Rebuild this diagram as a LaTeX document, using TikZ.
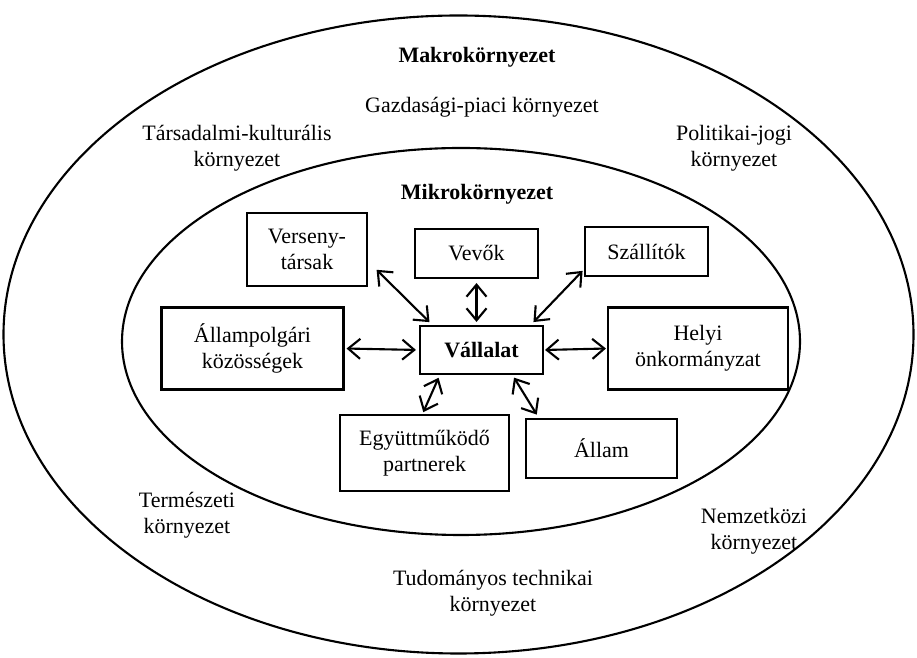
\documentclass[tikz,border=0pt]{standalone}
\usepackage{fontspec}
\setmainfont{Liberation Serif}
\usetikzlibrary{arrows.meta}
\tikzset{
	doboz/.style={draw, line width=1.2pt, align=center, inner sep=2pt},
	felirat/.style={align=center},
	nyil/.style={{Straight Barb[length=2.4mm,width=4mm]}-{Straight Barb[length=2.4mm,width=4mm]}, line width=1.2pt}
}

\begin{document}
\begin{tikzpicture}[font=\fontsize{12.5}{15}\selectfont]
			%%%%% START %%%%%
			\useasboundingbox (0, 0) rectangle (18.34, 13.14);
			
			\draw[line width=1.2pt] (9.17, 6.45) ellipse (9.1 and 6.38);
			\draw[line width=1.2pt] (9.22, 6.31) ellipse (6.78 and 3.87);
			
			\node[felirat] (makro) at (9.54, 12.0) {\textbf{Makrokörnyezet}};
			\node[felirat] (gazdasagi) at (9.64, 11.0) {Gazdasági-piaci környezet};
			\node[felirat] (tarsadalmi) at (4.74, 10.18) {Társadalmi-kulturális\\környezet};
			\node[felirat] (politikai) at (14.68, 10.18) {Politikai-jogi\\környezet};
			\node[felirat] (mikro) at (9.54, 9.26) {\textbf{Mikrokörnyezet}};
			\node[felirat] (termeszeti) at (3.74, 2.84) {Természeti\\környezet};
			\node[felirat] (nemzetkozi) at (15.08, 2.52) {Nemzetközi\\környezet};
			\node[felirat] (tudomanyos) at (9.86, 1.28) {Tudományos technikai\\környezet};
			
			\node[doboz, minimum width=2.46cm, minimum height=0.96cm] (vallalat) at (9.63, 6.14) {\textbf{Vállalat}};
			\node[doboz, minimum width=2.4cm, minimum height=1.46cm] (verseny) at (6.14, 8.15) {Verseny-\\társak};
			\node[doboz, minimum width=2.46cm, minimum height=0.98cm] (vevok) at (9.53, 8.07) {Vevők};
			\node[doboz, minimum width=2.46cm, minimum height=0.98cm] (szallitok) at (12.93, 8.11) {Szállítók};
			\node[doboz, minimum width=3.64cm, minimum height=1.64cm] (allampolgari) at (5.05, 6.17) {Állampolgári\\közösségek};
			\node[doboz, minimum width=3.6cm, minimum height=1.64cm] (helyi) at (13.96, 6.17) {Helyi\\önkormányzat};
			\node[doboz, minimum width=3.38cm, minimum height=1.52cm] (egyutt) at (8.49, 4.08) {Együttműködő\\partnerek};
			\node[doboz, minimum width=3.02cm, minimum height=1.18cm] (allam) at (12.03, 4.17) {Állam};
			
			\draw[nyil, shorten <=0.24cm, shorten >=0.08cm] (verseny.-11) -- (vallalat.153);
			\draw[nyil, shorten <=0.08cm, shorten >=0.06cm] (vevok.south) -- (vevok.south |- vallalat.north);
			\draw[nyil, shorten <=0.04cm, shorten >=0.08cm] (szallitok.196) -- (vallalat.27);
			\draw[nyil, shorten <=0.04cm, shorten >=0.06cm] (allampolgari.east) -- (vallalat.west);
			\draw[nyil, shorten <=0.02cm, shorten >=0.02cm] (vallalat.east) -- (helyi.west);
			\draw[nyil, shorten <=0.06cm, shorten >=0.04cm] (vallalat.211) -- (egyutt.93);
			\draw[nyil, shorten <=0.06cm, shorten >=0.08cm] (vallalat.-39) -- (allam.154);
			
			%%%%% END %%%%%
\end{tikzpicture}
\end{document}
